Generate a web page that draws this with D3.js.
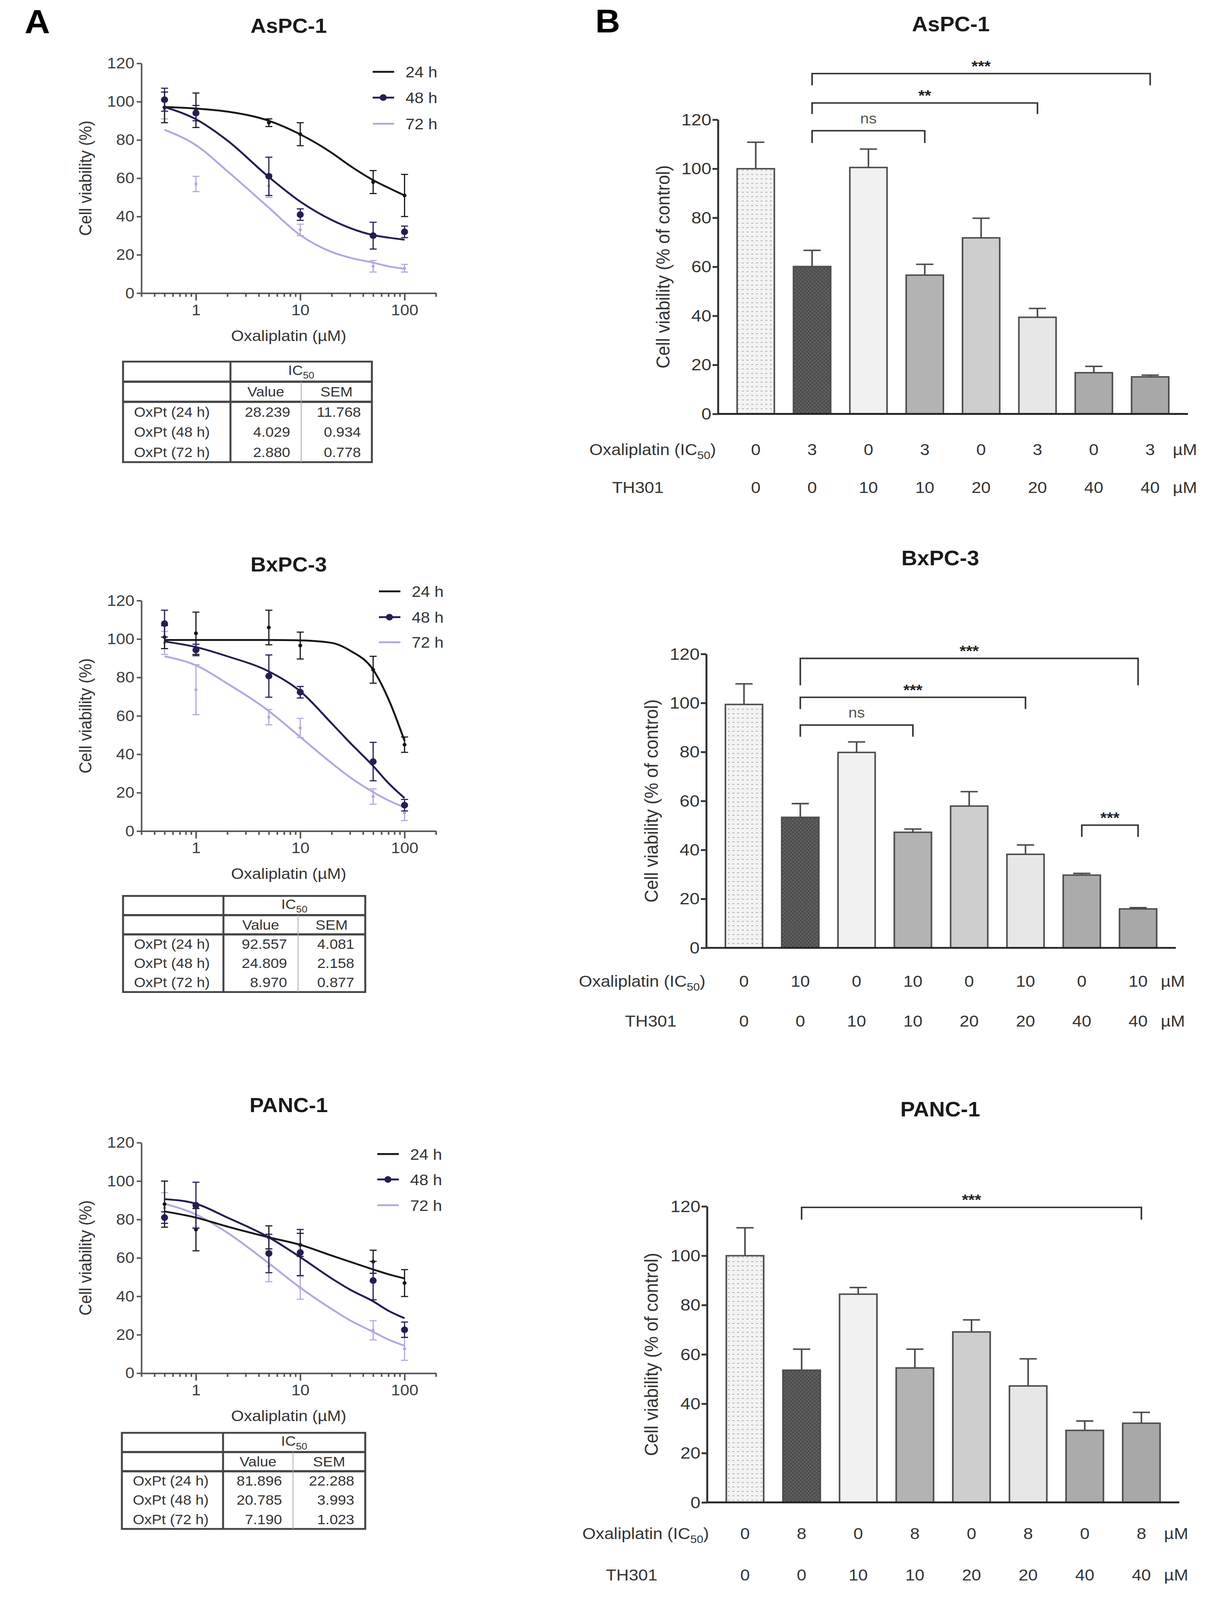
<!DOCTYPE html>
<html>
<head>
<meta charset="utf-8">
<script src="https://cdn.jsdelivr.net/npm/d3@7"></script>
<style>
  html, body { margin: 0; padding: 0; background: #fff; overflow: hidden; }
  svg { display: block; }
</style>
</head>
<body>
<script>
// ---------- data ----------
const doses = [0.5, 1, 5, 10, 50, 100];
const fitDoses = [0.5, 1, 2, 5, 10, 20, 30, 50, 70, 100];
const timeLabels = ['24 h', '48 h', '72 h'];
const tableRowLabels = ['OxPt (24 h)', 'OxPt (48 h)', 'OxPt (72 h)'];
const yTicks = [0, 20, 40, 60, 80, 100, 120];

// AsPC-1, dose response
const aspcMean24 = [97, 95.5, 89, 83, 58, 51];
const aspcErr24 = [8, 9, 2, 6, 6, 11];
const aspcMean48 = [101, 94, 61, 41, 30, 32];
const aspcErr48 = [6, 4, 10, 3, 7, 3];
const aspcMean72 = [96, 57, 56, 33, 14, 13];
const aspcErr72 = [5, 4, 6, 3, 3, 2];
const aspcFit24 = [97.2, 96.4, 94.8, 90, 82.9, 73.3, 66.5, 59, 55, 51];
const aspcFit48 = [97.2, 90.8, 79.7, 60.6, 47.8, 38.2, 34, 30.3, 29, 27.9];
const aspcFit72 = [85.3, 77.3, 63.7, 44.6, 30.3, 21.5, 18.5, 15.9, 14, 12.7];
const aspcIC50 = ['28.239', '4.029', '2.880'];
const aspcSEM = ['11.768', '0.934', '0.778'];

// BxPC-3, dose response
const bxpcMean24 = [101, 103, 106, 96.6, 84, 45];
const bxpcErr24 = [6, 11, 9, 7, 7, 4];
const bxpcMean48 = [108, 94.3, 80.7, 72.3, 36.2, 13.5];
const bxpcErr48 = [7, 3, 11, 3, 10, 3];
const bxpcMean72 = [98, 73.6, 59.3, 53.7, 18, 9.5];
const bxpcErr72 = [6, 13, 4, 5, 4, 4];
const bxpcFit24 = [99.5, 99.5, 99.5, 99.5, 99.3, 98, 94, 84, 68.8, 47];
const bxpcFit48 = [98.7, 95.8, 91, 83.1, 72.8, 56.1, 46, 33.9, 25, 17.2];
const bxpcFit72 = [91, 86.3, 76.8, 62.5, 49, 35.4, 28, 20.3, 16, 12.4];
const bxpcIC50 = ['92.557', '24.809', '8.970'];
const bxpcSEM = ['4.081', '2.158', '0.877'];

// PANC-1, dose response
const pancMean24 = [88, 74.7, 70.7, 66.8, 58, 46.9];
const pancErr24 = [12, 11, 6, 6, 6, 7];
const pancMean48 = [81, 87.4, 62.3, 62.8, 48.2, 22.6];
const pancErr48 = [3, 12, 10, 12, 10, 4];
const pancMean72 = [86, 81, 55.6, 44.5, 22.3, 12.7];
const pancErr72 = [8, 5, 8, 6, 5, 6];
const pancFit24 = [84.2, 81, 76.3, 70.7, 66.8, 61.2, 58, 54, 51.5, 49.3];
const pancFit48 = [90.6, 88.2, 81, 70.7, 60.4, 49.3, 43.5, 37.4, 32.5, 28.6];
const pancFit72 = [88.2, 82.6, 73.1, 57.2, 44.5, 33.4, 27.5, 21.5, 17.5, 14.3];
const pancIC50 = ['81.896', '20.785', '7.190'];
const pancSEM = ['22.288', '3.993', '1.023'];

// combination bars
const barGroups = ['g1', 'g2', 'g3', 'g4', 'g5', 'g6', 'g7', 'g8'];
const thDose = ['0', '0', '10', '10', '20', '20', '40', '40'];
const aspcOxDose = ['0', '3', '0', '3', '0', '3', '0', '3'];
const bxpcOxDose = ['0', '10', '0', '10', '0', '10', '0', '10'];
const pancOxDose = ['0', '8', '0', '8', '0', '8', '0', '8'];

const aspcBarMean = [100, 60.1, 100.5, 56.6, 71.8, 39.4, 16.8, 15.1];
const aspcBarErr = [10.8, 6.6, 7.5, 4.4, 8, 3.6, 2.6, 0.7];
const bxpcBarMean = [99.4, 53.3, 79.8, 47.2, 57.9, 38.2, 29.7, 15.9];
const bxpcBarErr = [8.4, 5.6, 4.3, 1.3, 5.9, 3.8, 0.7, 0.5];
const pancBarMean = [100, 53.6, 84.4, 54.5, 69.1, 47.2, 29.2, 32.1];
const pancBarErr = [11.3, 8.5, 2.7, 7.6, 4.9, 11, 3.8, 4.4];

// significance brackets: [from bar, to bar, label, level (%), leg length (%)]
const aspcSig = [[1, 3, 'ns', 115.5, 5], [1, 5, '**', 126.8, 4.5], [1, 7, '***', 138.8, 4.8]];
const bxpcSig = [[1, 7, '***', 118.2, 11], [1, 5, '***', 102.3, 4.8], [1, 3, 'ns', 91, 4.8], [6, 7, '***', 50.1, 4.8]];
const pancSig = [[1, 7, '***', 119.6, 5]];

// ---------- styling ----------
const FONT = '"Liberation Sans", Arial, Helvetica, sans-serif';
const col24 = '#161616';
const col48 = '#251c52';
const col72 = '#b6a6df';
const barFills = ['url(#dots)', 'url(#cross)', '#f1f1f1', '#b3b3b3', '#cecece', '#e7e7e7', '#ababab', '#a8a8a8'];

// the figure is laid out in 3118 x 4345 units and stretched to whatever the window shows
const vw = window.innerWidth || 3118;
const vh = window.innerHeight || 4345;
const svg = d3.select('body').append('svg')
  .attr('width', vw)
  .attr('height', vh)
  .attr('viewBox', '0 0 3118 4345')
  .attr('preserveAspectRatio', 'none')
  .style('font-family', FONT);

svg.append('rect').attr('width', 3118).attr('height', 4345).attr('fill', '#fff');

const defs = svg.append('defs');
const dots = defs.append('pattern').attr('id', 'dots')
  .attr('patternUnits', 'userSpaceOnUse').attr('width', 12).attr('height', 12);
dots.append('rect').attr('width', 12).attr('height', 12).attr('fill', '#f3f3f3');
dots.append('rect').attr('x', 3).attr('y', 5).attr('width', 5).attr('height', 2).attr('fill', '#a5a5a5');
const cross = defs.append('pattern').attr('id', 'cross')
  .attr('patternUnits', 'userSpaceOnUse').attr('width', 10).attr('height', 10);
cross.append('rect').attr('width', 10).attr('height', 10).attr('fill', '#616161');
cross.append('path').attr('d', 'M0,0L10,10M10,0L0,10').attr('stroke', '#464646').attr('stroke-width', 1.6);

// panel letters
svg.append('text').attr('x', 63).attr('y', 90).attr('font-size', 90).attr('font-weight', 'bold').text('A');
svg.append('text').attr('x', 1524).attr('y', 88).attr('font-size', 88).attr('font-weight', 'bold').text('B');

const styleAxis = (g, fs, stroke, sw, fill) => {
  g.attr('font-family', FONT).attr('font-size', fs);
  g.select('.domain').attr('stroke', stroke).attr('stroke-width', sw);
  g.selectAll('.tick line').attr('stroke', stroke).attr('stroke-width', sw);
  g.selectAll('.tick text').attr('fill', fill);
};

// ---------- panel A: dose-response curves ----------
function curvePanel(c, d) {
  const x = d3.scaleLog().domain([0.3, 200]).range([c.left, c.right]);
  const y = d3.scaleLinear().domain([0, 120]).range([c.bottom, c.top]);
  const g = svg.append('g');
  const midX = (c.left + c.right) / 2;

  g.append('text').attr('x', midX).attr('y', c.titleY + 20)
    .attr('text-anchor', 'middle').attr('font-size', 55).attr('font-weight', 'bold')
    .attr('fill', '#1a1a1a').text(d.title);

  const yAxisG = g.append('g').attr('transform', `translate(${c.left},0)`)
    .call(d3.axisLeft(y).tickValues(yTicks).tickSize(12).tickSizeOuter(0).tickPadding(6));
  styleAxis(yAxisG, 42, '#555', 4, '#3c3c3c');

  const major = [1, 10, 100];
  const minor = x.ticks().filter(v => !major.some(m => Math.abs(m - v) < 1e-9));
  const xMinorG = g.append('g').attr('transform', `translate(0,${c.bottom})`)
    .call(d3.axisBottom(x).tickValues(minor).tickSize(10).tickSizeOuter(0).tickFormat(''));
  styleAxis(xMinorG, 42, '#555', 4, '#3c3c3c');
  const xMajorG = g.append('g').attr('transform', `translate(0,${c.bottom})`)
    .call(d3.axisBottom(x).tickValues(major).tickSize(20).tickSizeOuter(0).tickPadding(10).tickFormat(d3.format('d')));
  styleAxis(xMajorG, 42, '#555', 4, '#3c3c3c');

  g.append('text').attr('x', midX).attr('y', c.bottom + 130)
    .attr('text-anchor', 'middle').attr('font-size', 42).attr('fill', '#333').text('Oxaliplatin (µM)');
  g.append('text')
    .attr('transform', `translate(${c.left - 128},${(c.top + c.bottom) / 2}) rotate(-90)`)
    .attr('text-anchor', 'middle').attr('font-size', 44).attr('fill', '#333').text('Cell viability (%)');

  const line = d3.line().x(p => x(p.dose)).y(p => y(p.v)).curve(d3.curveMonotoneX);

  // draw 72 h first, then 24 h, then 48 h on top
  [2, 0, 1].forEach(i => {
    const s = d.series[i];
    const fit = fitDoses.map((dose, k) => ({ dose, v: s.fit[k] }));
    g.append('path').datum(fit).attr('d', line)
      .attr('fill', 'none').attr('stroke', s.color).attr('stroke-width', 5);
    const pts = doses.map((dose, k) => ({ dose, v: s.mean[k], e: s.err[k] }));
    const eg = g.append('g').attr('stroke', s.color).attr('stroke-width', 3);
    eg.selectAll('line.v').data(pts).join('line').attr('class', 'v')
      .attr('x1', p => x(p.dose)).attr('x2', p => x(p.dose))
      .attr('y1', p => y(p.v - p.e)).attr('y2', p => y(p.v + p.e));
    eg.selectAll('line.t').data(pts).join('line').attr('class', 't')
      .attr('x1', p => x(p.dose) - 9).attr('x2', p => x(p.dose) + 9)
      .attr('y1', p => y(p.v + p.e)).attr('y2', p => y(p.v + p.e));
    eg.selectAll('line.b').data(pts).join('line').attr('class', 'b')
      .attr('x1', p => x(p.dose) - 9).attr('x2', p => x(p.dose) + 9)
      .attr('y1', p => y(p.v - p.e)).attr('y2', p => y(p.v - p.e));
    g.append('g').selectAll('circle').data(pts).join('circle')
      .attr('cx', p => x(p.dose)).attr('cy', p => y(p.v)).attr('r', s.r).attr('fill', s.color);
  });

  // legend
  d.series.forEach((s, i) => {
    const ly = c.legendY[i];
    g.append('line').attr('x1', c.legendX).attr('x2', c.legendX + 55)
      .attr('y1', ly).attr('y2', ly).attr('stroke', s.color).attr('stroke-width', 5);
    if (s.r > 6) {
      g.append('circle').attr('cx', c.legendX + 27).attr('cy', ly).attr('r', s.r).attr('fill', s.color);
    }
    g.append('text').attr('x', c.legendX + 84).attr('y', ly + 15)
      .attr('font-size', 42).attr('fill', '#333').text(timeLabels[i]);
  });

  // IC50 table
  const t = c.table;
  const rows = 5;
  const rowY = i => t.y + i * t.rowH;
  const tg = g.append('g');
  tg.append('rect').attr('x', t.x0).attr('y', t.y).attr('width', t.x1 - t.x0).attr('height', rows * t.rowH)
    .attr('fill', 'none').attr('stroke', '#444').attr('stroke-width', 5);
  [1, 2].forEach(i => tg.append('line').attr('x1', t.x0).attr('x2', t.x1)
    .attr('y1', rowY(i)).attr('y2', rowY(i)).attr('stroke', '#444').attr('stroke-width', 6));
  tg.append('line').attr('x1', t.div).attr('x2', t.div).attr('y1', t.y).attr('y2', rowY(rows))
    .attr('stroke', '#444').attr('stroke-width', 5);
  tg.append('line').attr('x1', t.div2).attr('x2', t.div2).attr('y1', rowY(1)).attr('y2', rowY(rows))
    .attr('stroke', '#aaa').attr('stroke-width', 2);
  const fs = 38;
  const base = i => rowY(i) + t.rowH / 2 + 13;
  const ic = tg.append('text').attr('x', (t.div + t.x1) / 2).attr('y', base(0) - 4)
    .attr('text-anchor', 'middle').attr('font-size', fs).attr('fill', '#333');
  ic.append('tspan').text('IC');
  ic.append('tspan').attr('font-size', 26).attr('dy', 10).text('50');
  tg.append('text').attr('x', (t.div + t.div2) / 2).attr('y', base(1))
    .attr('text-anchor', 'middle').attr('font-size', fs).attr('fill', '#333').text('Value');
  tg.append('text').attr('x', (t.div2 + t.x1) / 2).attr('y', base(1))
    .attr('text-anchor', 'middle').attr('font-size', fs).attr('fill', '#333').text('SEM');
  tableRowLabels.forEach((lab, i) => {
    tg.append('text').attr('x', t.x0 + 28).attr('y', base(i + 2))
      .attr('font-size', fs).attr('fill', '#333').text(lab);
    tg.append('text').attr('x', t.div2 - 28).attr('y', base(i + 2)).attr('text-anchor', 'end')
      .attr('font-size', fs).attr('fill', '#333').text(d.ic50[i]);
    tg.append('text').attr('x', t.x1 - 28).attr('y', base(i + 2)).attr('text-anchor', 'end')
      .attr('font-size', fs).attr('fill', '#333').text(d.sem[i]);
  });
}

const mkSeries = (m24, e24, f24, m48, e48, f48, m72, e72, f72) => [
  { color: col24, r: 5, mean: m24, err: e24, fit: f24 },
  { color: col48, r: 9, mean: m48, err: e48, fit: f48 },
  { color: col72, r: 4, mean: m72, err: e72, fit: f72 }
];

curvePanel(
  { left: 362, right: 1116, top: 172, bottom: 796, titleY: 69, legendX: 954, legendY: [195, 265, 336],
    table: { x0: 315, x1: 952, div: 590, div2: 771, y: 982, rowH: 54.6 } },
  { title: 'AsPC-1', ic50: aspcIC50, sem: aspcSEM,
    series: mkSeries(aspcMean24, aspcErr24, aspcFit24, aspcMean48, aspcErr48, aspcFit48, aspcMean72, aspcErr72, aspcFit72) }
);
curvePanel(
  { left: 362, right: 1116, top: 1631, bottom: 2257, titleY: 1532, legendX: 970, legendY: [1606, 1676, 1744],
    table: { x0: 315, x1: 935, div: 572, div2: 763, y: 2433, rowH: 52.2 } },
  { title: 'BxPC-3', ic50: bxpcIC50, sem: bxpcSEM,
    series: mkSeries(bxpcMean24, bxpcErr24, bxpcFit24, bxpcMean48, bxpcErr48, bxpcFit48, bxpcMean72, bxpcErr72, bxpcFit72) }
);
curvePanel(
  { left: 362, right: 1116, top: 3103, bottom: 3729, titleY: 3000, legendX: 966, legendY: [3134, 3203, 3273],
    table: { x0: 312, x1: 935, div: 571, div2: 750, y: 3891, rowH: 52.2 } },
  { title: 'PANC-1', ic50: pancIC50, sem: pancSEM,
    series: mkSeries(pancMean24, pancErr24, pancFit24, pancMean48, pancErr48, pancFit48, pancMean72, pancErr72, pancFit72) }
);

// ---------- panel B: combination bar charts ----------
function barPanel(c, d) {
  const x = d3.scaleBand().domain(barGroups).range([c.left, c.right]).paddingInner(0.34).paddingOuter(0.34);
  const y = d3.scaleLinear().domain([0, 120]).range([c.bottom, c.top]);
  const g = svg.append('g');
  const cx = i => x(barGroups[i]) + x.bandwidth() / 2;

  g.append('text').attr('x', c.titleX).attr('y', c.titleY + 20)
    .attr('text-anchor', 'middle').attr('font-size', 56).attr('font-weight', 'bold')
    .attr('fill', '#1a1a1a').text(d.title);

  const bars = barGroups.map((k, i) => ({ k, i, v: d.mean[i], e: d.err[i] }));

  // error bars (upper only)
  const eg = g.append('g').attr('stroke', '#4a4a4a').attr('stroke-width', 4);
  eg.selectAll('line.v').data(bars).join('line').attr('class', 'v')
    .attr('x1', b => cx(b.i)).attr('x2', b => cx(b.i))
    .attr('y1', b => y(b.v)).attr('y2', b => y(b.v + b.e));
  eg.selectAll('line.c').data(bars).join('line').attr('class', 'c')
    .attr('x1', b => cx(b.i) - 22).attr('x2', b => cx(b.i) + 22)
    .attr('y1', b => y(b.v + b.e)).attr('y2', b => y(b.v + b.e));

  g.append('g').selectAll('rect').data(bars).join('rect')
    .attr('x', b => x(b.k)).attr('width', x.bandwidth())
    .attr('y', b => y(b.v)).attr('height', b => y(0) - y(b.v))
    .attr('fill', b => barFills[b.i]).attr('stroke', '#4d4d4d').attr('stroke-width', 4);

  const yAxisG = g.append('g').attr('transform', `translate(${c.left},0)`)
    .call(d3.axisLeft(y).tickValues(yTicks).tickSize(14).tickSizeOuter(0).tickPadding(3));
  styleAxis(yAxisG, 46, '#333', 5, '#333');
  g.append('line').attr('x1', c.left).attr('x2', c.right).attr('y1', y(0)).attr('y2', y(0))
    .attr('stroke', '#222').attr('stroke-width', 5);

  g.append('text')
    .attr('transform', `translate(${c.yLabelX},${(c.top + c.bottom) / 2}) rotate(-90)`)
    .attr('text-anchor', 'middle').attr('font-size', 48).attr('fill', '#333')
    .text('Cell viability (% of control)');

  // significance brackets
  d.sig.forEach(([a, b, lab, lvl, leg]) => {
    const yy = y(lvl);
    g.append('path')
      .attr('d', `M${cx(a)},${y(lvl - leg)}V${yy}H${cx(b)}V${y(lvl - leg)}`)
      .attr('fill', 'none').attr('stroke', '#333').attr('stroke-width', 4);
    const isStar = lab.indexOf('*') === 0;
    g.append('text').attr('x', (cx(a) + cx(b)) / 2).attr('y', isStar ? yy - 6 : yy - 20)
      .attr('text-anchor', 'middle').attr('font-size', isStar ? 42 : 40)
      .attr('font-weight', isStar ? 'bold' : 'normal')
      .attr('fill', isStar ? '#222' : '#555').text(lab);
  });

  // treatment rows
  const rowFs = 44;
  const ox = g.append('text').attr('x', c.labelRight).attr('y', c.rowY[0] + 16)
    .attr('text-anchor', 'end').attr('font-size', rowFs).attr('fill', '#333');
  ox.append('tspan').text('Oxaliplatin (IC');
  ox.append('tspan').attr('font-size', 30).attr('dy', 10).text('50');
  ox.append('tspan').attr('dy', -10).text(')');
  g.append('text').attr('x', c.thX).attr('y', c.rowY[1] + 16)
    .attr('font-size', rowFs).attr('fill', '#333').text('TH301');

  [d.ox, thDose].forEach((vals, r) => {
    g.append('g').selectAll('text').data(vals).join('text')
      .attr('x', (v, i) => cx(i)).attr('y', c.rowY[r] + 16)
      .attr('text-anchor', 'middle').attr('font-size', rowFs).attr('fill', '#333').text(v => v);
    g.append('text').attr('x', cx(7) + 58).attr('y', c.rowY[r] + 16)
      .attr('font-size', rowFs).attr('fill', '#333').text('µM');
  });
}

barPanel(
  { left: 1838, right: 3041, top: 325, bottom: 1124, titleX: 2434, titleY: 65, yLabelX: 1714,
    labelRight: 1833, thX: 1567, rowY: [1220, 1323] },
  { title: 'AsPC-1', mean: aspcBarMean, err: aspcBarErr, ox: aspcOxDose, sig: aspcSig }
);
barPanel(
  { left: 1808, right: 3010, top: 1776, bottom: 2574, titleX: 2407, titleY: 1515, yLabelX: 1684,
    labelRight: 1806, thX: 1600, rowY: [2664, 2772] },
  { title: 'BxPC-3', mean: bxpcBarMean, err: bxpcBarErr, ox: bxpcOxDose, sig: bxpcSig }
);
barPanel(
  { left: 1810, right: 3019, top: 3276, bottom: 4080, titleX: 2407, titleY: 3012, yLabelX: 1684,
    labelRight: 1815, thX: 1551, rowY: [4164, 4276] },
  { title: 'PANC-1', mean: pancBarMean, err: pancBarErr, ox: pancOxDose, sig: pancSig }
);
</script>
</body>
</html>
